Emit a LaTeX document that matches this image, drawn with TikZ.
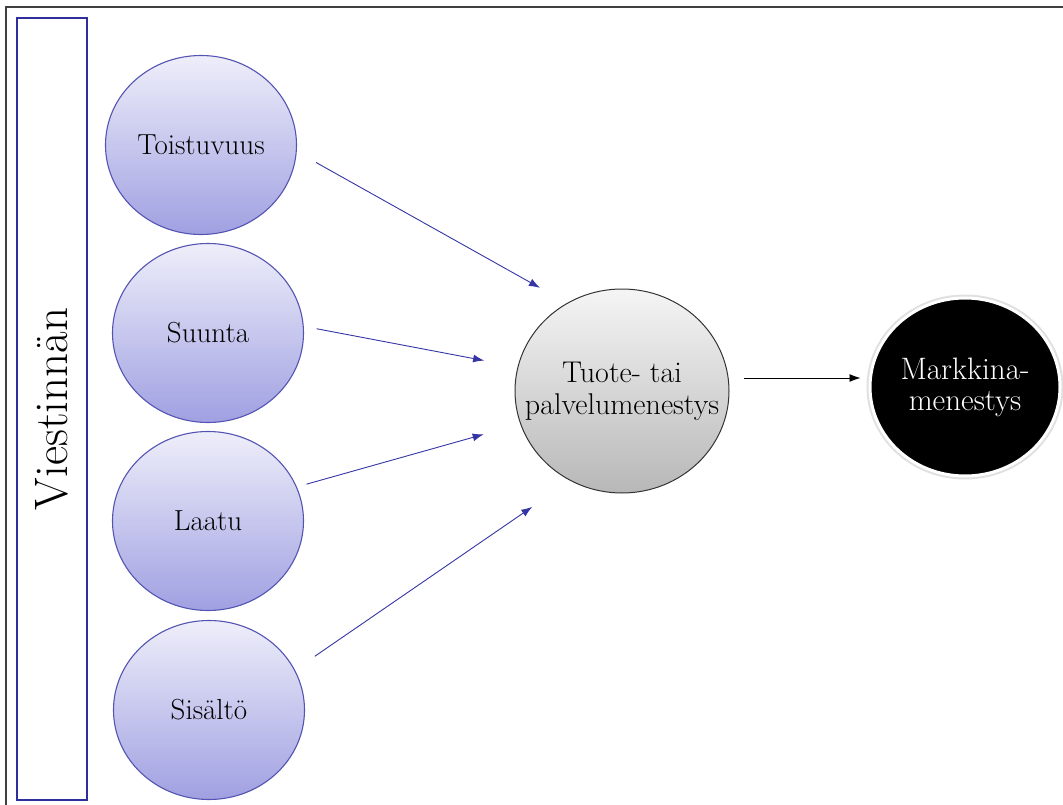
\documentclass[tikz,border=0pt]{standalone}
\usepackage{tikz}
\usetikzlibrary{arrows.meta,shapes.geometric}
\definecolor{sideblue}{HTML}{2E2E9C}
\definecolor{ringblue}{HTML}{5454B2}
\definecolor{arrblue}{HTML}{3535A5}
\definecolor{toplav}{HTML}{EEEEFA}
\definecolor{botlav}{HTML}{A0A0E2}

\begin{document}
\begin{tikzpicture}[x=1pt,y=-1pt,
  factor/.style={ellipse,draw=ringblue,line width=1.1pt,top color=toplav,bottom color=botlav,
    minimum width=191pt,minimum height=179pt,inner sep=0pt,font=\fontsize{29}{33}\selectfont},
  hub/.style={ellipse,draw=black!80,line width=1pt,top color=black!4,bottom color=black!28,
    minimum width=214pt,minimum height=204pt,inner sep=0pt},
  hubtext/.style={align=center,font=\fontsize{30}{32}\selectfont},
  goal/.style={ellipse,fill=black,draw=white,line width=3pt,preaction={draw=black!12,line width=7pt},
    minimum width=190pt,minimum height=178pt,inner sep=0pt,text=white,align=center,
    font=\fontsize{31}{31}\selectfont},
  infl/.style={draw=arrblue,line width=0.9pt,-{Latex[length=11pt,width=8pt]}}]
\useasboundingbox (0,0) rectangle (1063,805);
\draw[black!75,line width=1.5pt] (6,7) rectangle (1080,820);
\node[draw=sideblue,line width=2.5pt,rotate=90,minimum width=782pt,minimum height=70pt,
  font=\fontsize{47}{52}\selectfont] (viestinnan) at (52,409) {Viestinnän};

\node[factor] (toist) at (201,145) {Toistuvuus};
\node[factor] (suunta) at (208,333) {Suunta};
\node[factor] (laatu) at (208,521) {Laatu};
\node[factor] (sisalto) at (209,710) {Sisältö};
\node[hub,label={[hubtext]center:Tuote- tai\\palvelumenestys}] (tuote) at (622,391) {};
\node[goal] (markkina) at (965,387) {Markkina-\\menestys};

\draw[infl,shorten <=22pt,shorten >=31pt] (toist.-4) -- (tuote.122);
\draw[infl,shorten <=13pt,shorten >=34pt] (suunta.4) -- (tuote.167);
\draw[infl,shorten <=10pt,shorten >=38pt] (laatu.21) -- (tuote.198);
\draw[infl,shorten <=24pt,shorten >=46pt] (sisalto.25) -- (tuote.240);
\draw[line width=0.9pt,-{Latex[length=11pt,width=8pt]},shorten <=14pt,shorten >=8pt]
  ([yshift=13pt]tuote.east) -- ([yshift=9pt]markkina.west);
\end{tikzpicture}
\end{document}
